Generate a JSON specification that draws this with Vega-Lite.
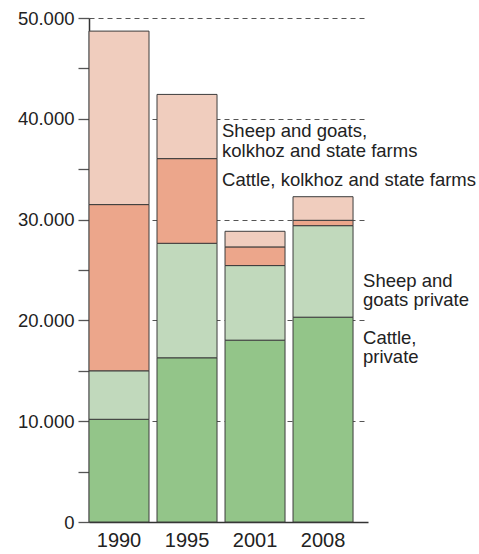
{
  "$schema": "https://vega.github.io/schema/vega-lite/v6.json",
  "width": 279,
  "height": 504,
  "autosize": {"type": "none"},
  "padding": {"left": 89, "top": 18, "right": 111, "bottom": 32},
  "config": {
    "view": {"stroke": null},
    "font": "Liberation Sans"
  },
  "datasets": {
    "livestock": [
      {"year": "1990", "category": "Cattle, private", "value": 10190},
      {"year": "1990", "category": "Sheep and goats private", "value": 4810},
      {"year": "1990", "category": "Cattle, kolkhoz and state farms", "value": 16490},
      {"year": "1990", "category": "Sheep and goats, kolkhoz and state farms", "value": 17210},
      {"year": "1995", "category": "Cattle, private", "value": 16290},
      {"year": "1995", "category": "Sheep and goats private", "value": 11360},
      {"year": "1995", "category": "Cattle, kolkhoz and state farms", "value": 8400},
      {"year": "1995", "category": "Sheep and goats, kolkhoz and state farms", "value": 6370},
      {"year": "2001", "category": "Cattle, private", "value": 18040},
      {"year": "2001", "category": "Sheep and goats private", "value": 7400},
      {"year": "2001", "category": "Cattle, kolkhoz and state farms", "value": 1850},
      {"year": "2001", "category": "Sheep and goats, kolkhoz and state farms", "value": 1550},
      {"year": "2008", "category": "Cattle, private", "value": 20320},
      {"year": "2008", "category": "Sheep and goats private", "value": 9080},
      {"year": "2008", "category": "Cattle, kolkhoz and state farms", "value": 530},
      {"year": "2008", "category": "Sheep and goats, kolkhoz and state farms", "value": 2340}
    ],
    "labels": [
      {"year": "1995", "value": 38790, "text": "Sheep and goats,\nkolkhoz and state farms"},
      {"year": "1995", "value": 33930, "text": "Cattle, kolkhoz and state farms"},
      {"year": "2008", "value": 23900, "text": "Sheep and\ngoats private"},
      {"year": "2008", "value": 18250, "text": "Cattle,\nprivate"}
    ]
  },
  "layer": [
    {
      "data": {"name": "livestock"},
      "transform": [
        {"calculate": "indexof(['Cattle, private', 'Sheep and goats private', 'Cattle, kolkhoz and state farms', 'Sheep and goats, kolkhoz and state farms'], datum.category)", "as": "stackRank"}
      ],
      "mark": {"type": "bar", "stroke": "#3c3c3c", "strokeWidth": 1},
      "encoding": {
        "x": {
          "field": "year", "type": "ordinal",
          "scale": {"paddingInner": 0.1176, "paddingOuter": 0.11, "align": 0},
          "axis": {
            "title": null, "labelAngle": 0, "ticks": false,
            "labelFontSize": 20, "labelColor": "#222", "labelPadding": 8,
            "domainColor": "#333", "domainWidth": 1.5
          }
        },
        "y": {
          "field": "value", "type": "quantitative", "aggregate": "sum", "stack": "zero",
          "scale": {"domain": [0, 50000], "nice": false},
          "axis": {
            "title": null,
            "values": [0, 5000, 10000, 15000, 20000, 25000, 30000, 35000, 40000, 45000, 50000],
            "labelExpr": "datum.value % 10000 === 0 ? replace(format(datum.value, ','), ',', '.') : ''",
            "labelFontSize": 18.5, "labelColor": "#222", "labelPadding": 4,
            "tickSize": 11, "tickColor": "#555", "tickWidth": 1.3,
            "domainColor": "#333", "domainWidth": 1.5,
            "grid": true, "gridColor": "#555", "gridWidth": 1, "gridDash": [5, 4],
            "gridOpacity": {"condition": {"test": "datum.value > 0 && datum.value % 10000 === 0", "value": 1}, "value": 0}
          }
        },
        "order": {"field": "stackRank", "type": "quantitative", "sort": "ascending"},
        "color": {
          "field": "category", "type": "nominal",
          "scale": {
            "domain": ["Cattle, private", "Sheep and goats private", "Cattle, kolkhoz and state farms", "Sheep and goats, kolkhoz and state farms"],
            "range": ["#93c589", "#c1d9bc", "#eca68b", "#f0cdbe"]
          },
          "legend": null
        }
      }
    },
    {
      "data": {"name": "labels"},
      "transform": [{"filter": "datum.year === '1995'"}],
      "mark": {"type": "text", "align": "left", "baseline": "middle", "dx": 5, "fontSize": 18.5, "lineHeight": 20, "lineBreak": "\n", "color": "#222"},
      "encoding": {
        "x": {"field": "year", "type": "ordinal", "bandPosition": 1},
        "y": {"field": "value", "type": "quantitative"},
        "text": {"field": "text"}
      }
    },
    {
      "data": {"name": "labels"},
      "transform": [{"filter": "datum.year === '2008'"}],
      "mark": {"type": "text", "align": "left", "baseline": "middle", "dx": 10, "fontSize": 18.5, "lineHeight": 19, "lineBreak": "\n", "color": "#222"},
      "encoding": {
        "x": {"field": "year", "type": "ordinal", "bandPosition": 1},
        "y": {"field": "value", "type": "quantitative"},
        "text": {"field": "text"}
      }
    }
  ]
}
